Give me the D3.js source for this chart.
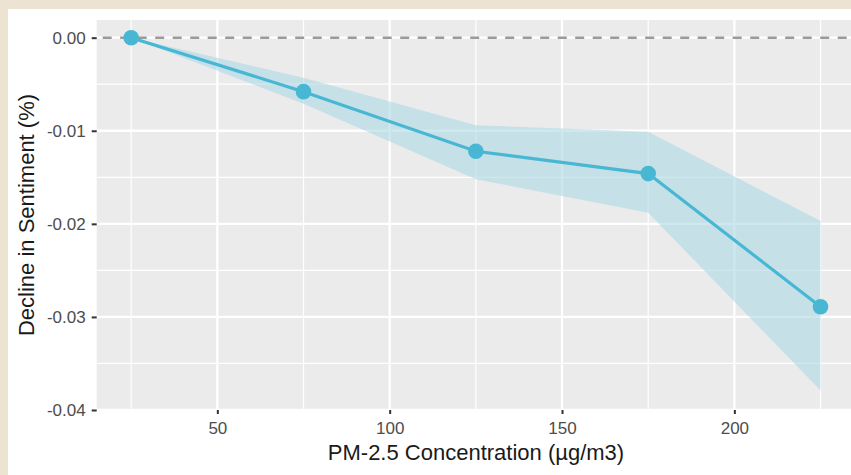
<!DOCTYPE html>
<html lang="en">
  <head>
    <meta charset="UTF-8" />
    <title>Decline in Sentiment vs PM-2.5</title>
    <style>
      body {
        margin: 0;
        background-color: #ede3d3;
      }
      #chart {
        position: absolute;
        left: 8px;
        top: 9px;
        width: 843px;
        height: 466px;
        background: #ffffff;
        overflow: hidden;
      }
      text {
        font-family: "Liberation Sans", Arial, sans-serif;
      }
    </style>
  </head>
  <body>
    <div id="chart"></div>

    <script src="https://d3js.org/d3.v7.min.js"></script>
    <script>
      // data
      const pm25 = [25, 75, 125, 175, 225];
      const decline = [0, -0.0058, -0.0122, -0.0146, -0.0289];
      const upper = [0, -0.0043, -0.0094, -0.0101, -0.0197];
      const lower = [0, -0.0071, -0.0152, -0.0188, -0.0379];
      const xTicks = [50, 100, 150, 200];
      const xMinor = [25, 75, 125, 175, 225];
      const yTicks = [0, -0.01, -0.02, -0.03, -0.04];
      const yMinor = [-0.005, -0.015, -0.025, -0.035];

      // offsets inside the white area (which starts at 8,9)
      const ox = 8, oy = 9;
      const panel = { left: 96.7 - ox, right: 855 - ox, top: 20 - oy, bottom: 410 - oy };

      const svg = d3
        .select("#chart")
        .append("svg")
        .attr("width", 843)
        .attr("height", 466);

      const x = d3.scaleLinear().domain([15, 235]).range([panel.left, panel.right]);
      const y = d3.scaleLinear().domain([-0.04, 0.0019]).range([panel.bottom, panel.top]);

      // grey panel
      svg
        .append("rect")
        .attr("x", panel.left)
        .attr("y", panel.top)
        .attr("width", panel.right - panel.left)
        .attr("height", panel.bottom - panel.top)
        .attr("fill", "#ebebeb");

      const grid = svg.append("g").attr("stroke", "#ffffff");

      // minor grid
      grid
        .selectAll(".xmin")
        .data(xMinor)
        .join("line")
        .attr("class", "xmin")
        .attr("x1", (d) => x(d))
        .attr("x2", (d) => x(d))
        .attr("y1", panel.top)
        .attr("y2", panel.bottom)
        .attr("stroke-width", 1.2);
      grid
        .selectAll(".ymin")
        .data(yMinor)
        .join("line")
        .attr("class", "ymin")
        .attr("x1", panel.left)
        .attr("x2", panel.right)
        .attr("y1", (d) => y(d))
        .attr("y2", (d) => y(d))
        .attr("stroke-width", 1.2);

      // major grid
      grid
        .selectAll(".xmaj")
        .data(xTicks)
        .join("line")
        .attr("class", "xmaj")
        .attr("x1", (d) => x(d))
        .attr("x2", (d) => x(d))
        .attr("y1", panel.top)
        .attr("y2", panel.bottom)
        .attr("stroke-width", 2.3);
      grid
        .selectAll(".ymaj")
        .data(yTicks)
        .join("line")
        .attr("class", "ymaj")
        .attr("x1", panel.left)
        .attr("x2", panel.right)
        .attr("y1", (d) => y(d))
        .attr("y2", (d) => y(d))
        .attr("stroke-width", 2.3);

      // dashed reference line at zero
      svg
        .append("line")
        .attr("x1", panel.left)
        .attr("x2", panel.right)
        .attr("y1", y(0))
        .attr("y2", y(0))
        .attr("stroke", "#9a9a9a")
        .attr("stroke-width", 2.4)
        .attr("stroke-dasharray", "9,8.5")
        .attr("stroke-dashoffset", -6);

      const rows = pm25.map((d, i) => ({ x: d, y: decline[i], lo: lower[i], hi: upper[i] }));

      // confidence ribbon
      const area = d3
        .area()
        .x((d) => x(d.x))
        .y0((d) => y(d.lo))
        .y1((d) => y(d.hi));
      svg
        .append("path")
        .datum(rows)
        .attr("d", area)
        .attr("fill", "#add8e6")
        .attr("fill-opacity", 0.6);

      // line + points
      const line = d3
        .line()
        .x((d) => x(d.x))
        .y((d) => y(d.y));
      svg
        .append("path")
        .datum(rows)
        .attr("d", line)
        .attr("fill", "none")
        .attr("stroke", "#48b7d4")
        .attr("stroke-width", 3.2);
      svg
        .selectAll(".pt")
        .data(rows)
        .join("circle")
        .attr("class", "pt")
        .attr("cx", (d) => x(d.x))
        .attr("cy", (d) => y(d.y))
        .attr("r", 7.8)
        .attr("fill", "#48b7d4");

      // axes (ggplot uses a plain hyphen for negatives)
      const fmt = (d) => d3.format(".2f")(d).replace("\u2212", "-");
      const xAxis = svg
        .append("g")
        .attr("transform", `translate(0,${panel.bottom})`)
        .call(d3.axisBottom(x).tickValues(xTicks).tickSize(4).tickPadding(8));
      const yAxis = svg
        .append("g")
        .attr("transform", `translate(${panel.left},0)`)
        .call(d3.axisLeft(y).tickValues(yTicks).tickSize(5).tickPadding(6).tickFormat(fmt));
      [xAxis, yAxis].forEach((a) => {
        a.select(".domain").remove();
        a.selectAll(".tick line").attr("stroke", "#333333").attr("stroke-width", 2);
        a.selectAll(".tick text")
          .attr("fill", "#4d4d4d")
          .style("font-size", "17px")
          .style("font-family", '"Liberation Sans", Arial, sans-serif');
      });

      // axis titles
      svg
        .append("text")
        .attr("x", 476 - ox)
        .attr("y", 460 - oy)
        .attr("text-anchor", "middle")
        .attr("fill", "#1a1a1a")
        .style("font-size", "22px")
        .text("PM-2.5 Concentration (µg/m3)");
      svg
        .append("text")
        .attr("transform", `translate(${34 - ox},${(panel.top + panel.bottom) / 2}) rotate(-90)`)
        .attr("text-anchor", "middle")
        .attr("fill", "#1a1a1a")
        .style("font-size", "22px")
        .text("Decline in Sentiment (%)");
    </script>
  </body>
</html>
